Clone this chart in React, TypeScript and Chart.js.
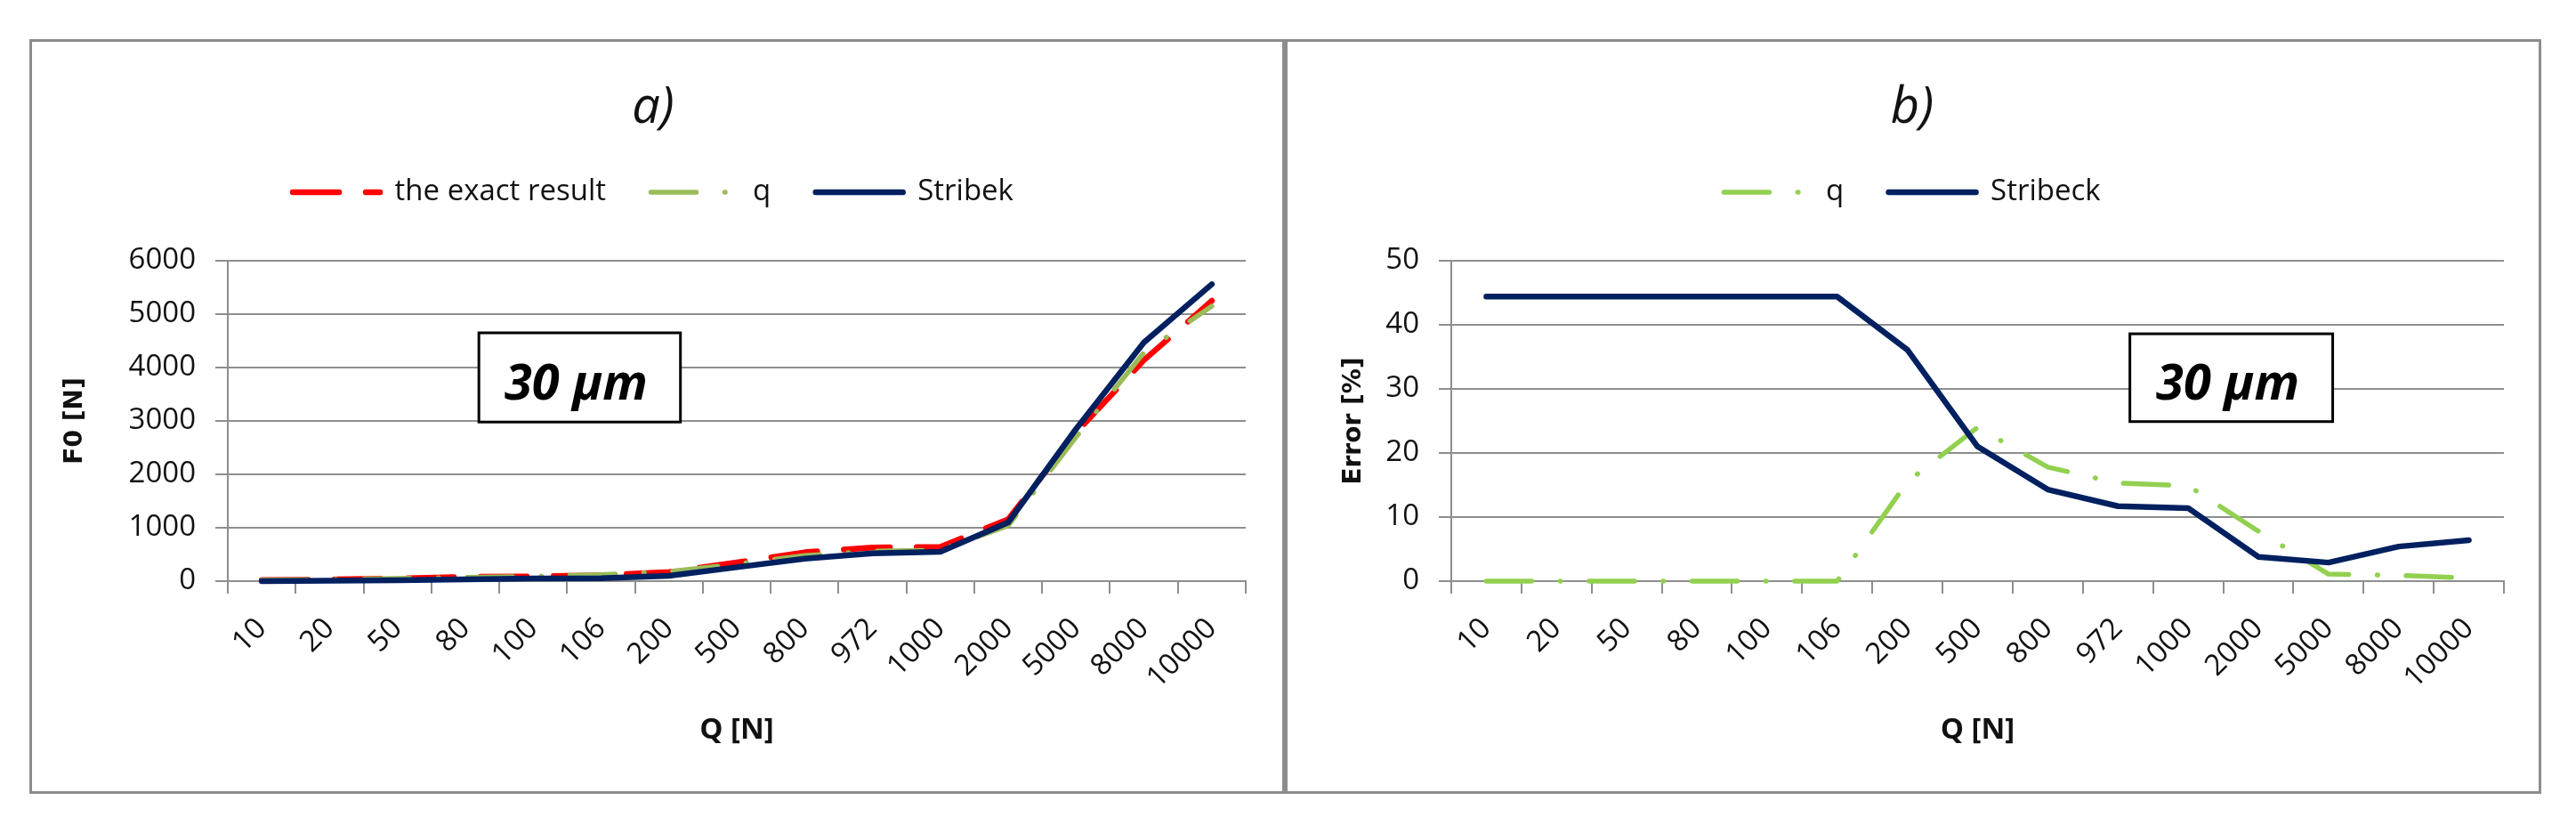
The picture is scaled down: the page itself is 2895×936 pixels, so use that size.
import React, { useEffect, useRef } from 'react';
import { Chart, registerables } from 'chart.js';

Chart.register(...registerables);

// ---------- data ----------
const categories = ['10', '20', '50', '80', '100', '106', '200', '500', '800', '972', '1000', '2000', '5000', '8000', '10000'];

// panel a) F0 [N]
const exactResultF0 = [20, 30, 50, 80, 90, 110, 170, 350, 540, 630, 640, 1160, 2780, 4140, 5250];
const qF0 = [20, 30, 50, 70, 90, 120, 180, 320, 480, 560, 580, 1040, 2700, 4280, 5150];
const stribekF0 = [0, 10, 15, 35, 50, 55, 100, 260, 420, 520, 550, 1100, 2850, 4470, 5560];

// panel b) Error [%]
const qError = [0, 0, 0, 0, 0, 0, 15.5, 24, 17.8, 15.3, 14.9, 7.8, 1.1, 0.9, 0.5];
const stribeckError = [44.4, 44.4, 44.4, 44.4, 44.4, 44.4, 36.1, 21, 14.3, 11.7, 11.4, 3.8, 2.9, 5.4, 6.4];

// axis ranges
const f0Max = 6000;
const f0Step = 1000;
const errorMax = 50;
const errorStep = 10;

// callout label
const calloutText = '30 µm';

// ---------- styles ----------
const TEXT = '#111111';
const GRID = '#8e8e8e';
const RED = '#ff0000';
const OLIVE = '#9bbb59';
const LIME = '#92d050';
const NAVY = '#002060';
const SAMPLE_W = 98;
const RED_DASH = [52, 30];
const GREEN_DASH = [51, 32, 0.5, 32];

function legendLabels(chart: any) {
  const items = Chart.defaults.plugins.legend.labels.generateLabels(chart);
  return items.map((item: any) => {
    const ds: any = chart.data.datasets[item.datasetIndex];
    return {
      ...item,
      pointStyle: 'line',
      lineDash: ds.borderDash || [],
      lineDashOffset: 0,
      lineCap: 'round',
      strokeStyle: ds.borderColor,
      fillStyle: ds.borderColor,
      lineWidth: ds.borderWidth,
      fontColor: TEXT,
    };
  });
}

const calloutPlugin = {
  id: 'callout',
  afterDatasetsDraw(chart: any, _args: any, opts: any) {
    if (!opts || !opts.text) return;
    const { ctx } = chart;
    const xs = chart.scales.x;
    const ys = chart.scales.y;
    const l = xs.getPixelForValue(opts.x0);
    const r = xs.getPixelForValue(opts.x1);
    const t = ys.getPixelForValue(opts.y0);
    const b = ys.getPixelForValue(opts.y1);
    ctx.save();
    ctx.fillStyle = '#ffffff';
    ctx.fillRect(l, t, r - l, b - t);
    ctx.lineWidth = 3;
    ctx.strokeStyle = '#000000';
    ctx.strokeRect(l, t, r - l, b - t);
    ctx.font = 'italic bold 56px "Open Sans"';
    ctx.fillStyle = '#000000';
    ctx.textAlign = 'center';
    ctx.textBaseline = 'alphabetic';
    ctx.fillText(opts.text, (l + r) / 2 - 4, t + (b - t) * 0.75);
    ctx.restore();
  },
};

function lineDs(label: string, data: number[], color: string, width: number, dash: number[], order: number) {
  return {
    label,
    data,
    borderColor: color,
    backgroundColor: color,
    borderWidth: width,
    borderDash: dash,
    borderCapStyle: 'round',
    borderJoinStyle: 'round',
    pointRadius: 0,
    pointHoverRadius: 0,
    pointStyle: 'line',
    tension: 0,
    fill: false,
    clip: false,
    order,
  };
}

interface PanelSpec {
  title: string;
  yTitle: string;
  yMax: number;
  yStep: number;
  padLeft: number;
  plotLeft: number;
  yTitleCenter: number;
  rightPad: number;
  datasets: any[];
  callout: any;
}

function makeConfig(s: PanelSpec): any {
  return {
    type: 'line',
    data: { labels: categories, datasets: s.datasets },
    plugins: [calloutPlugin],
    options: {
      responsive: false,
      animation: false,
      events: [],
      layout: { padding: { top: 56, left: s.padLeft, right: s.rightPad, bottom: 0 } },
      plugins: {
        tooltip: { enabled: false },
        title: {
          display: true,
          text: s.title,
          color: TEXT,
          font: { family: 'Open Sans', size: 56, style: 'italic', weight: 'normal', lineHeight: 0.8 },
          padding: { top: 0, bottom: 4.2 },
          weight: 2000,
        },
        legend: {
          display: true,
          position: 'top',
          weight: 1000,
          labels: {
            usePointStyle: true,
            pointStyleWidth: SAMPLE_W,
            boxHeight: 6,
            padding: 50.5,
            color: TEXT,
            font: { family: 'Open Sans', size: 33 },
            generateLabels: legendLabels,
            sort: (a: any, b: any) => a.datasetIndex - b.datasetIndex,
          },
        },
        // empty spacer between legend and plot area
        subtitle: {
          display: true,
          text: '',
          position: 'top',
          weight: 500,
          font: { size: 10, lineHeight: 1 },
          padding: { top: 0, bottom: 40.5 },
        },
        callout: s.callout,
      },
      scales: {
        x: {
          type: 'category',
          offset: true,
          grid: { offset: true, drawOnChartArea: false, drawTicks: true, tickLength: 14, color: GRID, lineWidth: 2 },
          border: { display: true, color: GRID, width: 2 },
          ticks: {
            autoSkip: false,
            minRotation: 45,
            maxRotation: 45,
            padding: 20,
            color: TEXT,
            font: { family: 'Open Sans', size: 33 },
          },
          title: {
            display: true,
            text: 'Q [N]',
            color: TEXT,
            font: { family: 'Open Sans', size: 33, weight: 'bold', lineHeight: 1.2 },
            padding: { top: 0, bottom: 52 },
          },
          afterFit: (scale: any) => {
            scale.height = 239;
          },
        },
        y: {
          type: 'linear',
          min: 0,
          max: s.yMax,
          ticks: {
            stepSize: s.yStep,
            padding: 22,
            color: TEXT,
            font: { family: 'Open Sans', size: 33 },
            callback: (v: any) => String(v),
          },
          grid: { color: GRID, lineWidth: 2, drawTicks: true, tickLength: 14 },
          border: { display: true, color: GRID, width: 2 },
          title: {
            display: true,
            text: s.yTitle,
            color: TEXT,
            font: { family: 'DejaVu Sans', size: 28, weight: 'bold', lineHeight: 1.2 },
            padding: { top: s.yTitleCenter - s.padLeft - 16.8, bottom: 0 },
          },
          afterFit: (scale: any) => {
            scale.width = s.plotLeft - s.padLeft;
          },
        },
      },
    },
  };
}

function ChartPanel(props: { left: number; top: number; width: number; height: number; spec: PanelSpec }) {
  const { left, top, width, height, spec } = props;
  const ref = useRef<HTMLCanvasElement | null>(null);
  useEffect(() => {
    if (!ref.current) return;
    const chart = new Chart(ref.current, makeConfig(spec));
    return () => chart.destroy();
  }, []);
  return (
    <>
      <div
        style={{
          position: 'absolute',
          left,
          top,
          width,
          height,
          boxSizing: 'border-box',
          border: '3px solid #8c8c8c',
          background: '#ffffff',
        }}
      />
      <canvas ref={ref} width={width} height={height} style={{ position: 'absolute', left, top, width, height }} />
    </>
  );
}

const panelA: PanelSpec = {
  title: 'a)',
  yTitle: 'F0 [N]',
  yMax: f0Max,
  yStep: f0Step,
  padLeft: 35,
  plotLeft: 223,
  yTitleCenter: 52,
  rightPad: 44,
  datasets: [
    lineDs('the exact result', exactResultF0, RED, 6.5, RED_DASH, 2),
    lineDs('q', qF0, OLIVE, 5.5, GREEN_DASH, 1),
    lineDs('Stribek', stribekF0, NAVY, 6.5, [], 0),
  ],
  callout: { text: calloutText, x0: 3.2, x1: 6.17, y0: 4650, y1: 2980 },
};

const panelB: PanelSpec = {
  title: 'b)',
  yTitle: 'Error [%]',
  yMax: errorMax,
  yStep: errorStep,
  padLeft: 40,
  plotLeft: 187,
  yTitleCenter: 78,
  rightPad: 42,
  datasets: [
    lineDs('q', qError, LIME, 5.5, GREEN_DASH, 1),
    lineDs('Stribeck', stribeckError, NAVY, 6.5, [], 0),
  ],
  callout: { text: calloutText, x0: 9.17, x1: 12.06, y0: 38.6, y1: 24.9 },
};

export default function App() {
  return (
    <div style={{ position: 'absolute', left: 0, top: 0, width: 2895, height: 936, background: '#ffffff', overflow: 'hidden' }}>
      <ChartPanel left={33} top={44} width={1411} height={848} spec={panelA} />
      <ChartPanel left={1444} top={44} width={1412} height={848} spec={panelB} />
    </div>
  );
}
